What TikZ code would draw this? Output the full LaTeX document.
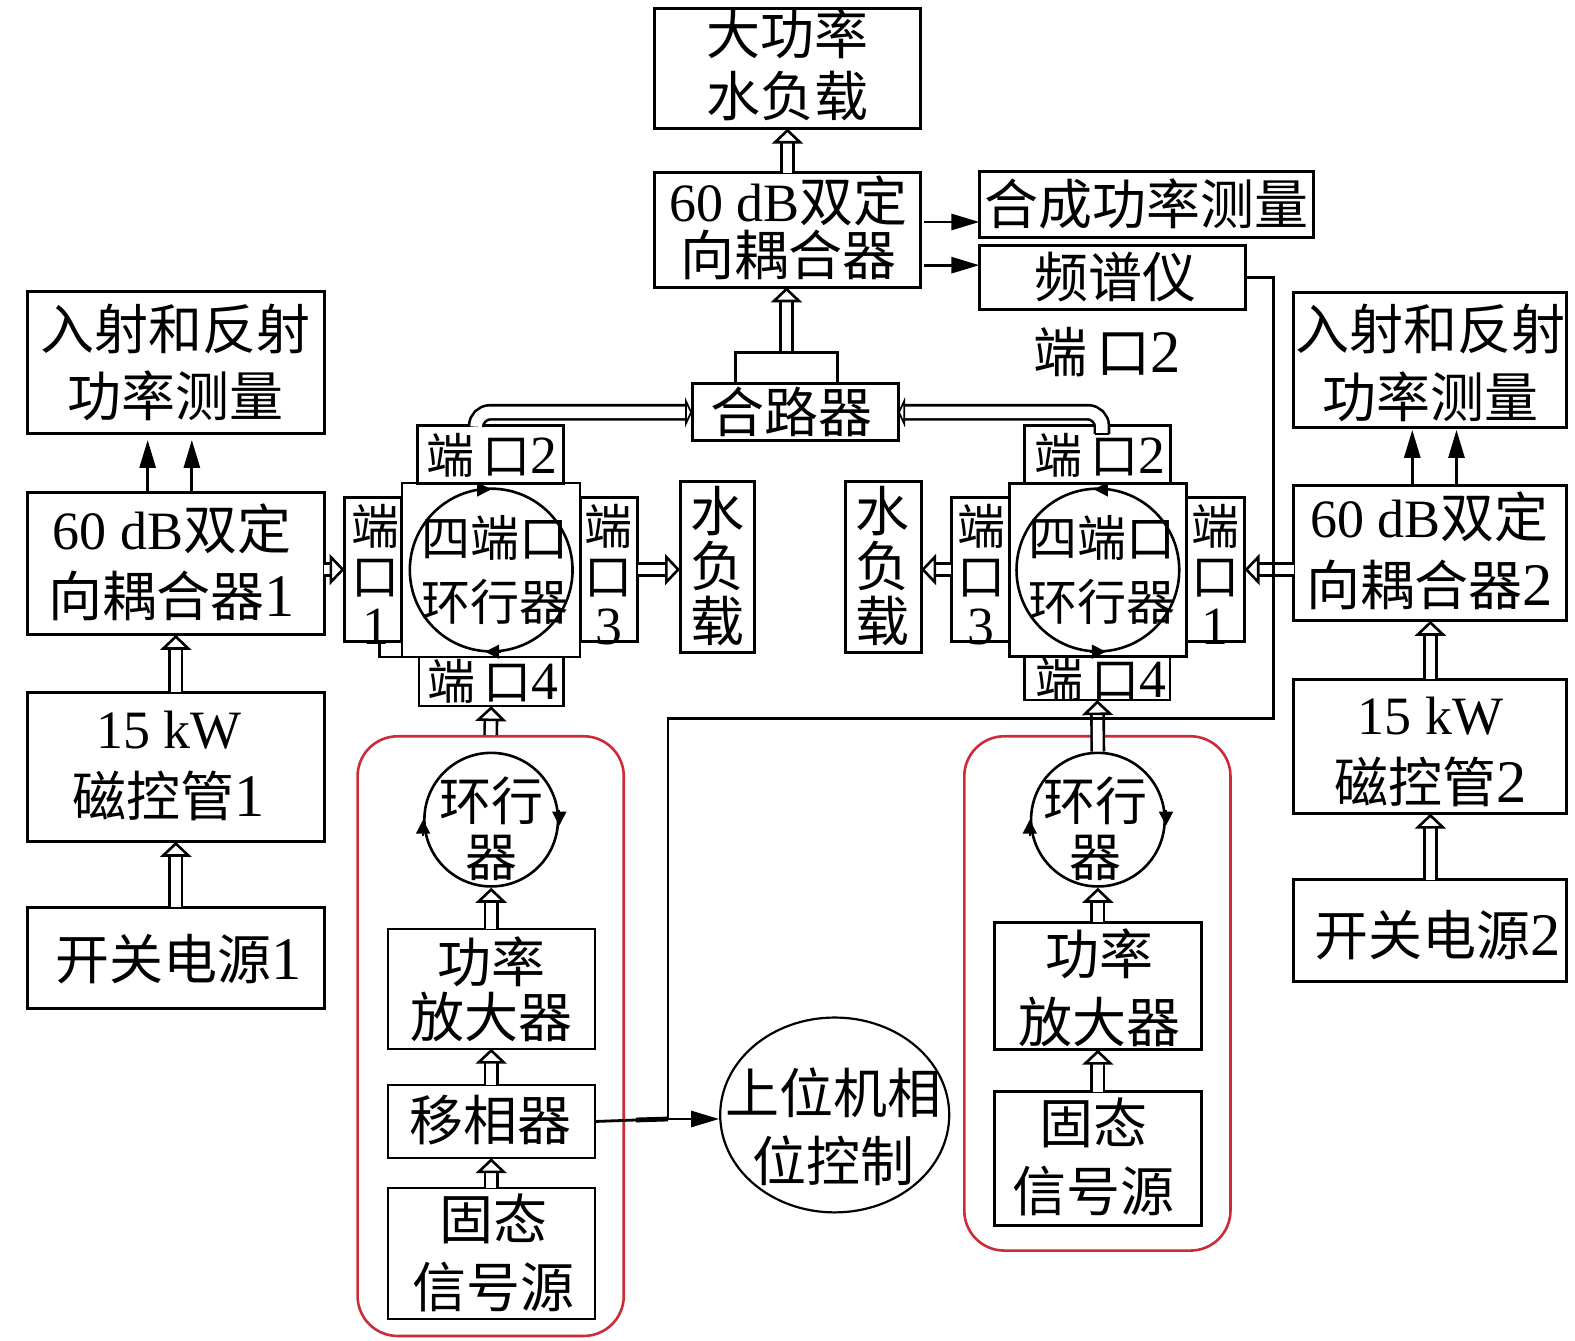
\documentclass[tikz,border=0pt]{standalone}
\usepackage{fontspec}
\setmainfont{Noto Sans CJK SC}
\newfontfamily\tm{Liberation Serif}
\newfontfamily\dg[Scale=1.12]{Liberation Serif}
\usepackage{xcolor}
\usetikzlibrary{arrows.meta,positioning,shapes.geometric,calc}
\definecolor{grpred}{RGB}{204,44,56}
\newcommand{\fsbig}{\fontsize{27}{31}\selectfont}
\newcommand{\fsport}{\fontsize{24}{25}\selectfont}
\tikzset{
  sz/.style 2 args={minimum width=#1*0.5022pt,minimum height=#2*0.5022pt},
  box/.style={draw,line width=1.5pt,inner sep=0pt,outer sep=0pt,align=center,font=\fsbig},
  txt/.style={inner sep=0pt,align=center,font=\fsbig},
  ptxt/.style={inner sep=0pt,align=center,font=\fsport},
  wtxt/.style={inner sep=0pt,align=center,font=\fontsize{27}{27.5}\selectfont},
  grp/.style={draw=grpred,line width=1.3pt,rounded corners=20pt,inner sep=0pt},
  ring/.style={draw,circle,line width=1.3pt,inner sep=0pt},
  line/.style={line width=1.4pt},
  hollow/.style={double,double distance=4.8pt,line width=1.3pt,
    -{Triangle[length=7.5pt,width=15.5pt,line width=1.3pt,fill=white]}},
  hollowb/.style={double,double distance=5.8pt,line width=1.3pt,rounded corners=7pt,
    -{Triangle[length=3.5pt,width=15pt,line width=1.3pt,fill=white]}},
  solidar/.style={line width=1.4pt,-{Triangle[length=14pt,width=8pt]}},
  headar/.style={line width=0.8pt,-{Triangle[length=7pt,width=7pt]}}
}
\begin{document}
\begin{tikzpicture}[x=0.5022pt,y=-0.5022pt]
  \useasboundingbox (0,0) rectangle (1568,1335);
  % top column
  \node[box,sz={264}{120}] (loadT) at (784,68) {};
  \node[txt] (loadTtx) at (784,65) {大功率\\水负载};
  \node[box,sz={264}{114}] (cplT) at (784,229) {};
  \node[txt] (cplTtx) at (785,227) {{\tm 60 dB}双定\\[-4pt]向耦合器};
  \node[box,sz={333}{65}] (meas) at (1141.5,203.5) {合成功率测量};
  \node[box,sz={265}{64}] (spec) at (1107.5,276) {};
  \node[txt] (spectx) at (1111,276) {频谱仪};
  \node[txt] (ptfree) at (1102,351) {端\,口{\dg 2}};
  \node[box,sz={205}{57}] (comb) at (791.5,410.5) {};
  \node[txt] (combtx) at (788,410) {合路器};
  % left column
  \node[box,sz={296}{142}] (incA) at (175,361) {入射和反射\\[2.5pt]功率测量};
  \node[box,sz={296}{142}] (cplA) at (175,561) {};
  \node[txt] (cplAtx) at (171,560) {{\tm 60 dB}双定\\[2.5pt]向耦合器{\dg 1}};
  \node[box,sz={296}{149}] (magA) at (175,763.5) {};
  \node[txt] (magAtx) at (168,763) {{\tm 15 kW}\\[3pt]磁控管{\dg 1}};
  \node[box,sz={296}{101}] (swA) at (175,953.5) {};
  \node[txt] (swAtx) at (178,955) {开关电源{\dg 1}};
  % right column
  \node[box,sz={272}{135}] (incB) at (1424,358.5) {};
  \node[txt] (incBtx) at (1424,361) {入射和反射\\[3pt]功率测量};
  \node[box,sz={272}{135}] (cplB) at (1424,550.5) {};
  \node[txt] (cplBtx) at (1423,548) {{\tm 60 dB}双定\\[3pt]向耦合器{\dg 2}};
  \node[box,sz={272}{134}] (magB) at (1424,743) {};
  \node[txt] (magBtx) at (1424,749) {{\tm 15 kW}\\[3pt]磁控管{\dg 2}};
  \node[box,sz={272}{101}] (swB) at (1424,926.5) {};
  \node[txt] (swBtx) at (1431,931) {开关电源{\dg 2}};
  % red groups
  \node[grp,sz={265}{597}] (grpA) at (488.5,1031.5) {};
  \node[grp,sz={265}{512}] (grpB) at (1092.5,989) {};
  % circulator A
  \node[box,sz={145}{57}] (p2A) at (488.5,452.5) {};
  \node[box,sz={144}{49},line width=1.1pt] (p4A) at (489,678.5) {};
  \node[box,sz={57}{144}] (p1A) at (371.5,567) {};
  \node[box,sz={57}{144}] (p3A) at (606.5,567) {};
  \node[box,sz={177}{173},line width=1.1pt] (sqA) at (489,567.5) {};
  \node[ring,minimum size=162*0.5022pt] (cirA) at (489,567.5) {};
  \node[box,sz={74}{171}] (wlA) at (714,564.5) {};
  \node[wtxt] (wlAtx) at (714,564) {水\\负\\载};
  \node[ptxt] (p2Atx) at (490,453) {端\,口{\dg 2}};
  \node[ptxt] (p4Atx) at (491,678) {端\,口{\dg 4}};
  \node[ptxt] (p1Atx) at (374,572) {端\\口\\{\dg 1}};
  \node[ptxt] (p3Atx) at (606,572) {端\\口\\{\dg 3}};
  \node[ptxt,font=\fontsize{24.5}{32}\selectfont] (cirAtx) at (493,567) {四端口\\环行器};
  % circulator B
  \node[box,sz={145}{57}] (p2B) at (1092.5,452.5) {};
  \node[box,sz={145}{43},line width=1.1pt] (p4B) at (1092.5,675.5) {};
  \node[box,sz={58}{144}] (p3B) at (976,567) {};
  \node[box,sz={58}{144}] (p1B) at (1210,567) {};
  \node[box,sz={176}{173}] (sqB) at (1093,567.5) {};
  \node[ring,minimum size=162*0.5022pt] (cirB) at (1093,567.5) {};
  \node[box,sz={75}{171}] (wlB) at (879.5,564.5) {};
  \node[wtxt] (wlBtx) at (879,564) {水\\负\\载};
  \node[ptxt] (p2Btx) at (1095,453) {端\,口{\dg 2}};
  \node[ptxt] (p4Btx) at (1096,676) {端\,口{\dg 4}};
  \node[ptxt] (p3Btx) at (977,572) {端\\口\\{\dg 3}};
  \node[ptxt] (p1Btx) at (1210,572) {端\\口\\{\dg 1}};
  \node[ptxt,font=\fontsize{24.5}{32}\selectfont] (cirBtx) at (1097,567) {四端口\\环行器};
  % source chain A
  \node[ring,minimum size=133*0.5022pt] (rngA) at (489,816) {};
  \node[txt,font=\fontsize{26}{28}\selectfont] (rngAtx) at (489,825) {环行\\器};
  \node[box,sz={206}{119},line width=1.1pt] (ampA) at (489,984.5) {功率\\[-3.5pt]放大器};
  \node[box,sz={206}{73},line width=1.1pt] (shift) at (489,1116.5) {};
  \node[txt] (shifttx) at (488,1115) {移相器};
  \node[box,sz={206}{130},line width=1.1pt] (srcA) at (489,1248) {};
  \node[txt] (srcAtx) at (491,1247) {固态\\[3pt]信号源};
  % source chain B
  \node[ring,minimum size=133*0.5022pt] (rngB) at (1093,816) {};
  \node[txt,font=\fontsize{26}{28}\selectfont] (rngBtx) at (1091,825) {环行\\器};
  \node[box,sz={206}{127}] (ampB) at (1093,981.5) {};
  \node[txt] (ampBtx) at (1095,983) {功率\\[3pt]放大器};
  \node[box,sz={206}{133}] (srcB) at (1093,1153.5) {};
  \node[txt] (srcBtx) at (1089,1152) {固态\\[3pt]信号源};
  % host
  \node[draw,ellipse,line width=1.1pt,inner sep=0pt,sz={228}{194}] (host) at (831,1110) {};
  \node[txt] (hosttx) at (830,1122) {上位机相\\[3pt]位控制};
  % free ends
  \coordinate (brl) at (732,351);
  \coordinate (brm) at (783,351);
  \coordinate (brr) at (834,351);
  \coordinate (stemA) at (474,424);
  \coordinate (stemB) at (1097,432);
  \coordinate (wp) at (1268,715);
  \coordinate (jl) at (633,1115);
  \coordinate (jn) at (665,1114);
  \coordinate (oA) at (920,221);
  \coordinate (oB) at (920,264);
  % hollow arrows
  \draw[hollow] (cplT.north) -- (loadT.south);
  \draw[hollow] (brm) -- (brm |- cplT.south);
  \draw[line] (brl |- comb.north) -- (brl) -- (brr) -- (brr |- comb.north);
  \draw[hollowb] (stemA) |- (comb.west);
  \draw[hollowb] (stemB) |- (comb.east);
  \draw[line] ($(stemB)+(-7,0)$) -- ($(stemB)+(7,0)$);
  \draw[hollow] (swA.north) -- (magA.south);
  \draw[hollow] (magA.north) -- (cplA.south);
  \draw[hollow] (swB.north) -- (magB.south);
  \draw[hollow] (magB.north) -- (cplB.south);
  \draw[hollow] (cplA.east |- p1A.west) -- (p1A.west);
  \draw[hollow] (cplB.west |- p1B.east) -- (p1B.east);
  \draw[hollow] (p3A.east) -- (wlA.west |- p3A.east);
  \draw[hollow] (p3B.west) -- (wlB.east |- p3B.west);
  \draw[hollow] (grpA.north) -- (p4A.south);
  \draw[hollow] (rngB.north) -- (p4B.south);
  \draw[hollow] (ampA.north) -- (rngA.south);
  \draw[hollow] (shift.north) -- (ampA.south);
  \draw[hollow] (srcA.north) -- (shift.south);
  \draw[hollow] (ampB.north) -- (rngB.south);
  \draw[hollow] (srcB.north) -- (ampB.south);
  % solid arrows
  \draw[solidar] (147,490) -- (147,438);
  \draw[solidar] (191,490) -- (191,438);
  \draw[solidar] (1406,483) -- (1406,428);
  \draw[solidar] (1450,483) -- (1450,428);
  \draw[solidar] (oA) -- (meas.west |- oA);
  \draw[solidar] (oB) -- (spec.west |- oB);
  \draw[solidar] (jn) -- (host.west |- jn);
  % lines
  \draw[line] (spec.east) -| (wp) -| (jn);
  \draw[line] (shift.east) -- (jl);
  \draw[line width=2.4pt] (jl) -- (jn);
  \draw[line] (378,639) |- (sqA.south west);
  % ring heads
  \draw[headar] ($(cirA.north)+(-16,2)$) -- ($(cirA.north)+(0,2)$);
  \draw[headar] ($(cirA.south)+(10,-1)$) -- ($(cirA.south)+(-6,-1)$);
  \draw[headar] ($(cirB.north)+(14,2)$) -- ($(cirB.north)+(-4,2)$);
  \draw[headar] ($(cirB.south)+(-8,-1)$) -- ($(cirB.south)+(8,-1)$);
  \draw[headar] ($(rngA.east)+(0,-10)$) -- ($(rngA.east)+(0,6)$);
  \draw[headar] ($(rngA.west)+(0,16)$) -- ($(rngA.west)+(0,0)$);
  \draw[headar] ($(rngB.east)+(0,-10)$) -- ($(rngB.east)+(0,6)$);
  \draw[headar] ($(rngB.west)+(0,16)$) -- ($(rngB.west)+(0,0)$);
\end{tikzpicture}
\end{document}
